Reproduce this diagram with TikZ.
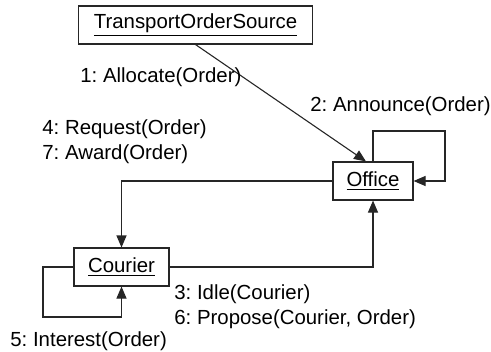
\documentclass[tikz,border=0pt]{standalone}
\usepackage{fontspec}
\setmainfont{Liberation Sans}
\usetikzlibrary{arrows.meta, positioning}
\frenchspacing

\begin{document}
\begin{tikzpicture}[
      x=0.5pt, y=-0.5pt,
      obj/.style={rectangle, draw=black!85, fill=white, line width=0.55pt, inner sep=0pt,
                  minimum height=19pt, font=\fontsize{10.2}{12.4}\selectfont},
      arr/.style={-{Triangle[length=6pt, width=5pt]}, line width=0.55pt, black!85},
      lbl/.style={inner sep=0pt, align=left, font=\fontsize{10.2}{12.4}\selectfont}
    ]
      \useasboundingbox (0,0) rectangle (491,352);

      % Objects
      \node[obj, minimum width=117pt] (source) at (195.5,25) {\underline{TransportOrderSource}};
      \node[obj, minimum width=40pt] (office) at (373,181) {\underline{Office}};
      \node[obj, minimum width=47.5pt] (courier) at (121.5,267) {\underline{Courier}};

      % Loop corners
      \coordinate (officeloop) at (445,131);
      \coordinate (courierloop) at (43,317);

      % Messages
      \draw[arr] (source.south) -- ([xshift=-3.5pt]office.north);
      \draw[arr] (office.north) |- (officeloop) |- (office.east);
      \draw[arr] (office.west) -| (courier.north);
      \draw[arr] (courier.east) -| (office.south);
      \draw[arr] (courier.west) -| (courierloop) -| (courier.south);

      % Labels
      \node[lbl, anchor=west] (allocate) at (80,77) {1: Allocate(Order)};
      \node[lbl, anchor=west] (announce) at (310,106) {2: Announce(Order)};
      \node[lbl, anchor=west] (request) at (42,142) {4: Request(Order)\\7: Award(Order)};
      \node[lbl, anchor=west] (idle) at (174,306.5) {3: Idle(Courier)\\6: Propose(Courier, Order)};
      \node[lbl, anchor=west] (interest) at (10,341) {5: Interest(Order)};
    \end{tikzpicture}
\end{document}
